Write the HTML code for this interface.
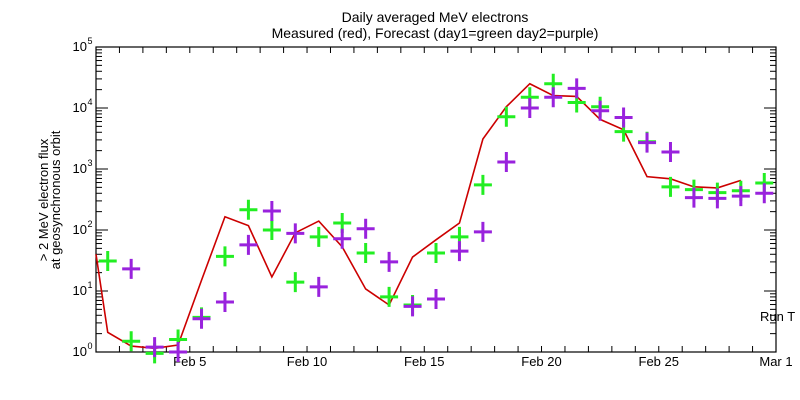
<!DOCTYPE html>
<html><head><meta charset="utf-8"><style>
html,body{margin:0;padding:0;background:#fff;}
svg{display:block;font-family:"Liberation Sans",sans-serif;}
</style></head><body>
<svg id="chart" width="800" height="400" viewBox="0 0 800 400">
<rect x="0" y="0" width="800" height="400" fill="#fff"/>
<text x="435" y="22" text-anchor="middle" font-size="14">Daily averaged MeV electrons</text>
<text x="435" y="38" text-anchor="middle" font-size="14">Measured (red), Forecast (day1=green day2=purple)</text>
<g transform="translate(50,200) rotate(-90)">
<text x="0" y="-2" text-anchor="middle" font-size="13">&gt; 2 MeV electron flux</text>
<text x="0" y="10" text-anchor="middle" font-size="13">at geosynchronous orbit</text>
</g>
<text x="760" y="321" font-size="13">Run T</text>
<g id="axes"></g>
<g id="marks"></g>
</svg>
<script>
const measuredDays = [1.0,1.5,2.5,3.5,4.5,5.5,6.5,7.5,8.5,9.5,10.5,11.5,12.5,13.5,14.5,15.5,16.5,17.5,18.5,19.5,20.5,21.5,22.5,23.5,24.5,25.5,26.5,27.5,28.5];
const measuredFlux = [40,2.1,1.25,1.15,1.3,15,165,118,17,90,140,53,10.8,5.9,36,69,130,3100,10500,25000,16000,15500,6500,4400,750,690,510,490,650];
const forecastDays = [1.5,2.5,3.5,4.5,5.5,6.5,7.5,8.5,9.5,10.5,11.5,12.5,13.5,14.5,15.5,16.5,17.5,18.5,19.5,20.5,21.5,22.5,23.5,24.5,25.5,26.5,27.5,28.5,29.5];
const day1Flux = [31,1.5,0.95,1.6,3.7,37,215,100,14,77,130,42,8,5.9,42,77,550,7200,15000,25000,12300,10500,4100,2800,510,460,410,440,590];
const day2Days = [2.5,3.5,4.5,5.5,6.5,7.5,8.5,9.5,10.5,11.5,12.5,13.5,14.5,15.5,16.5,17.5,18.5,19.5,20.5,21.5,22.5,23.5,24.5,25.5,26.5,27.5,28.5,29.5];
const day2Flux = [23,1.2,1.0,3.5,6.6,57,205,88,11.7,72,105,30,5.6,7.4,45,93,1300,10000,15000,21000,9000,7000,2700,1900,340,330,360,400];
const xTickDays = [5,10,15,20,25,30];
const xTickLabels = ["Feb 5","Feb 10","Feb 15","Feb 20","Feb 25","Mar 1"];
const yDecades = [0,1,2,3,4,5];

const L=96,R=776,T=47,B=352,D0=1,D1=30;
const xs=d=>L+(d-D0)/(D1-D0)*(R-L);
const ys=v=>B-(Math.log10(v)-0)/5*(B-T);
const NS="http://www.w3.org/2000/svg";
const axes=document.getElementById('axes'), marks=document.getElementById('marks');
function mk(tag,attrs,parent){const e=document.createElementNS(NS,tag);for(const k in attrs)e.setAttribute(k,attrs[k]);parent.appendChild(e);return e;}

const frame=mk('rect',{x:L,y:T,width:R-L,height:B-T,fill:'none',stroke:'#000','stroke-width':1.2},axes);


for(let d=D0+1;d<D1;d++){
  const x=xs(d);
  const t1=mk('line',{x1:x,y1:B,x2:x,y2:B-6,stroke:'#000'},axes);
  
  
  const t2=mk('line',{x1:x,y1:T,x2:x,y2:T+6,stroke:'#000'},axes);
  
  
}
xTickDays.forEach((d,i)=>{
  const t=mk('text',{x:xs(d),y:B+14,'text-anchor':'middle','font-size':13},axes);
  t.textContent=xTickLabels[i];
  
  
});
yDecades.forEach(p=>{
  for(let m=1;m<10;m++){
    if(p===5&&m>1)break;
    const v=m*Math.pow(10,p), y=ys(v), len=m===1?12:6;
    const a=mk('line',{x1:L,y1:y,x2:L+len,y2:y,stroke:'#000'},axes);
    
    
    const b=mk('line',{x1:R,y1:y,x2:R-len,y2:y,stroke:'#000'},axes);
    
    
  }
  const t=mk('text',{x:87,y:ys(Math.pow(10,p))+4,'text-anchor':'end','font-size':13},axes);
  t.textContent='10';
  
  
  const s=mk('text',{x:87.5,y:ys(Math.pow(10,p))-3,'font-size':9},axes);
  s.textContent=String(p);
  
  
});
const line=mk('polyline',{points:measuredDays.map((d,i)=>xs(d)+','+ys(measuredFlux[i])).join(' '),fill:'none',stroke:'#cc0000','stroke-width':1.6},marks);


function plus(x,y,color,name){
  const g=mk('path',{d:`M${x-9},${y}H${x+9}M${x},${y-10}V${y+10}`,stroke:color,'stroke-width':3,fill:'none'},marks);
  
  
}
forecastDays.forEach((d,i)=>plus(xs(d),ys(day1Flux[i]),'#22ee22','day1-forecast-point'));
day2Days.forEach((d,i)=>plus(xs(d),ys(day2Flux[i]),'#9922dd','day2-forecast-point'));
</script>
</body></html>
